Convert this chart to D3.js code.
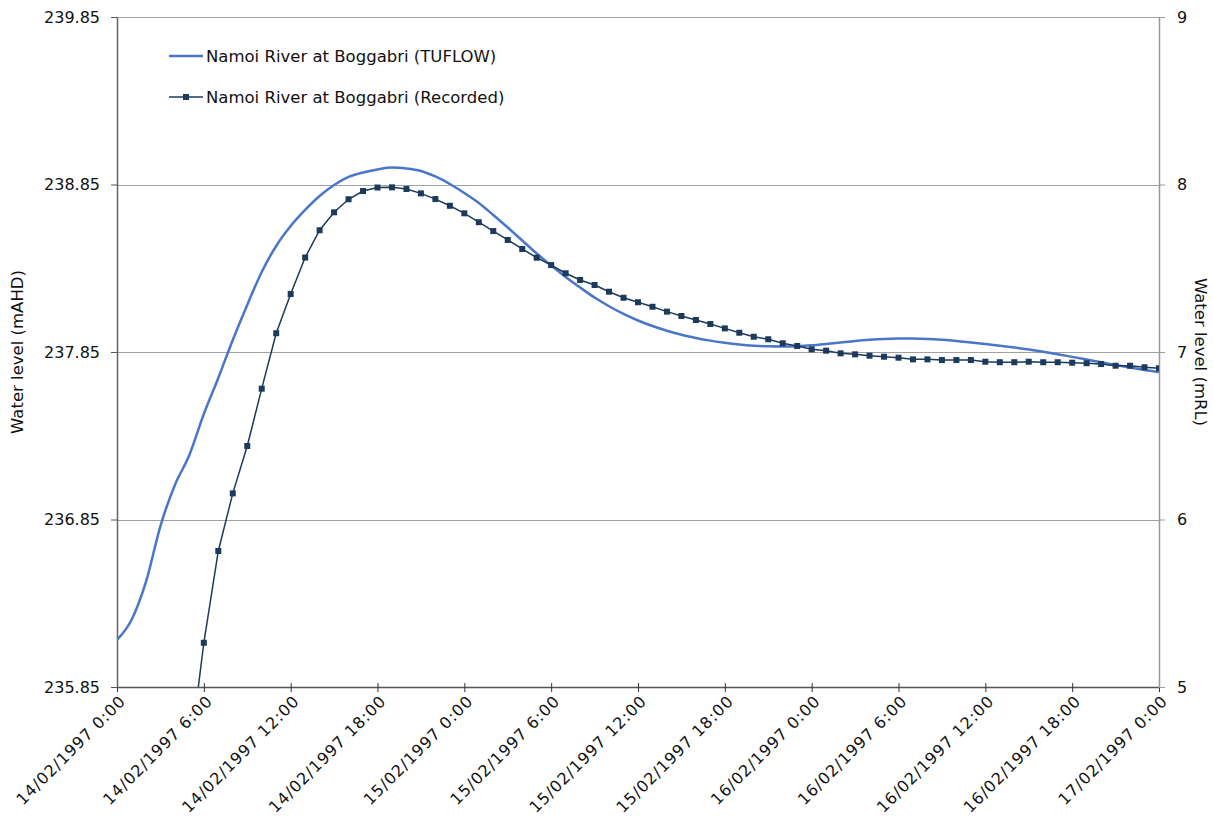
<!DOCTYPE html>
<html lang="en">
<head>
<meta charset="UTF-8">
<title>Namoi River at Boggabri</title>
<script src="https://cdnjs.cloudflare.com/ajax/libs/d3/7.8.5/d3.min.js"></script>
<style>
  body { margin: 0; background: #fff; }
  svg { display: block; }
  text { font-family: "DejaVu Sans", Verdana, sans-serif; fill: #111; }
</style>
</head>
<body>
<div id="chart"></div>
<script>
// hourly series, starting 14/02/1997 0:00
var startTime = new Date(1997, 1, 14, 0, 0);

// TUFLOW modelled level (mAHD), hour 0..72
var tuflow = [
  236.131, 236.250, 236.477, 236.811, 237.056, 237.235, 237.480, 237.695, 237.922, 238.131,
  238.328, 238.483, 238.602, 238.698, 238.781, 238.847, 238.895, 238.922, 238.940, 238.951,
  238.946, 238.931, 238.898, 238.853, 238.799, 238.740, 238.668, 238.593, 238.516, 238.438,
  238.366, 238.298, 238.235, 238.175, 238.123, 238.077, 238.038, 238.005, 237.977, 237.953,
  237.934, 237.918, 237.905, 237.895, 237.888, 237.884, 237.883, 237.885, 237.890, 237.898,
  237.907, 237.916, 237.923, 237.928, 237.930, 237.930, 237.928, 237.923, 237.916, 237.907,
  237.898, 237.888, 237.877, 237.865, 237.852, 237.837, 237.821, 237.805, 237.789, 237.772,
  237.757, 237.743, 237.731
];

// recorded level (mAHD), hour 5..72
var recordedStart = 5;
var recorded = [
  235.420, 236.114, 236.662, 237.006, 237.289, 237.631, 237.962, 238.196, 238.414, 238.577,
  238.684, 238.762, 238.811, 238.832, 238.833, 238.823, 238.797, 238.763, 238.723, 238.678,
  238.625, 238.572, 238.519, 238.465, 238.413, 238.369, 238.320, 238.280, 238.250, 238.210,
  238.174, 238.147, 238.120, 238.091, 238.065, 238.041, 238.017, 237.991, 237.965, 237.941,
  237.926, 237.902, 237.886, 237.866, 237.858, 237.842, 237.836, 237.828, 237.822, 237.816,
  237.806, 237.806, 237.802, 237.802, 237.802, 237.792, 237.789, 237.789, 237.792, 237.789,
  237.789, 237.786, 237.783, 237.778, 237.768, 237.768, 237.759, 237.753
];

var leftTicks = [235.85, 236.85, 237.85, 238.85, 239.85];
var rightTicks = [5, 6, 7, 8, 9];
var seriesNames = ["Namoi River at Boggabri (TUFLOW)", "Namoi River at Boggabri (Recorded)"];

var W = 1213, H = 819;
var m = { left: 117, right: 54, top: 17, bottom: 132 };
var pw = W - m.left - m.right, ph = H - m.top - m.bottom;

function hourDate(h) { return d3.timeHour.offset(startTime, h); }

var x = d3.scaleTime()
  .domain([startTime, hourDate(72)])
  .range([0, pw]);
var y = d3.scaleLinear().domain([235.85, 239.85]).range([ph, 0]);
var y2 = d3.scaleLinear().domain([5, 9]).range([ph, 0]);

var svg = d3.select("#chart").append("svg")
  .attr("width", W).attr("height", H);

svg.append("defs").append("clipPath").attr("id", "plotclip")
  .append("rect").attr("width", pw).attr("height", ph);

var g = svg.append("g").attr("transform", "translate(" + m.left + "," + m.top + ")");

// gridlines
g.append("g").selectAll("line")
  .data(leftTicks.slice(1))
  .enter().append("line")
  .attr("x1", 0).attr("x2", pw)
  .attr("y1", function (d) { return Math.round(y(d)) + 0.5; })
  .attr("y2", function (d) { return Math.round(y(d)) + 0.5; })
  .attr("stroke", "#a0a0a0").attr("stroke-width", 1);

// x axis
var fmt = d3.timeFormat("%d/%m/%Y %-H:%M");
var xAxis = g.append("g")
  .attr("transform", "translate(0," + ph + ")")
  .call(d3.axisBottom(x).ticks(d3.timeHour.every(6)).tickFormat(fmt).tickSizeInner(5).tickSizeOuter(0));
xAxis.select(".domain").attr("stroke", "#555").attr("stroke-width", 1.5);
xAxis.selectAll(".tick line").attr("y1", -4).attr("y2", 5).attr("stroke", "#333");
xAxis.selectAll(".tick text")
  .attr("font-size", 16)
  .attr("letter-spacing", 0.9)
  .attr("fill", "#111")
  .attr("text-anchor", "end")
  .attr("dy", 0)
  .attr("transform", "translate(6,12) rotate(-45)")
  .attr("x", 0).attr("y", 0)
  .attr("dominant-baseline", "middle");

// left axis
var yAxis = g.append("g")
  .call(d3.axisLeft(y).tickValues(leftTicks).tickFormat(d3.format(".2f")).tickSizeInner(6).tickSizeOuter(0));
yAxis.select(".domain").attr("stroke", "#666").attr("stroke-width", 1.5);
yAxis.selectAll(".tick line").attr("stroke", "#555");
yAxis.selectAll(".tick text").attr("font-size", 16).attr("fill", "#111").attr("x", -17);

// right axis
var yAxis2 = g.append("g")
  .attr("transform", "translate(" + pw + ",0)")
  .call(d3.axisRight(y2).tickValues(rightTicks).tickFormat(d3.format("d")).tickSizeInner(6).tickSizeOuter(0));
yAxis2.select(".domain").attr("stroke", "#999").attr("stroke-width", 1.5);
yAxis2.selectAll(".tick line").attr("stroke", "#999");
yAxis2.selectAll(".tick text").attr("font-size", 16).attr("fill", "#111").attr("x", 18);

// axis titles
svg.append("text")
  .attr("transform", "translate(23," + (m.top + ph / 2) + ") rotate(-90)")
  .attr("text-anchor", "middle")
  .attr("font-size", 16.5)
  .text("Water level (mAHD)");
svg.append("text")
  .attr("transform", "translate(1195," + (m.top + ph / 2) + ") rotate(90)")
  .attr("text-anchor", "middle")
  .attr("font-size", 16.5)
  .text("Water level (mRL)");

// series
var tufData = tuflow.map(function (v, i) { return { t: hourDate(i), v: v }; });
var recData = recorded.map(function (v, i) { return { t: hourDate(i + recordedStart), v: v }; });

var plot = g.append("g").attr("clip-path", "url(#plotclip)");

plot.append("path")
  .datum(tufData)
  .attr("fill", "none")
  .attr("stroke", "#4a76c9")
  .attr("stroke-width", 2.5)
  .attr("d", d3.line().curve(d3.curveMonotoneX)
    .x(function (d) { return x(d.t); })
    .y(function (d) { return y(d.v); }));

plot.append("path")
  .datum(recData)
  .attr("fill", "none")
  .attr("stroke", "#1b3a5c")
  .attr("stroke-width", 1.5)
  .attr("d", d3.line()
    .x(function (d) { return x(d.t); })
    .y(function (d) { return y(d.v); }));

plot.selectAll(".mk")
  .data(recData)
  .enter().append("rect")
  .attr("class", "mk")
  .attr("x", function (d) { return x(d.t) - 3; })
  .attr("y", function (d) { return y(d.v) - 3; })
  .attr("width", 6).attr("height", 6)
  .attr("fill", "#1b3a5c");

// legend
var leg = svg.append("g").attr("transform", "translate(169,0)");
leg.append("line").attr("x1", 0).attr("x2", 34).attr("y1", 56).attr("y2", 56)
  .attr("stroke", "#4a76c9").attr("stroke-width", 2.5);
leg.append("text").attr("x", 37).attr("y", 56).attr("dy", "0.35em")
  .attr("font-size", 16.5).text(seriesNames[0]);
leg.append("line").attr("x1", 0).attr("x2", 34).attr("y1", 97).attr("y2", 97)
  .attr("stroke", "#1b3a5c").attr("stroke-width", 1.5);
leg.append("rect").attr("x", 14).attr("y", 94).attr("width", 6).attr("height", 6)
  .attr("fill", "#1b3a5c");
leg.append("text").attr("x", 37).attr("y", 97).attr("dy", "0.35em")
  .attr("font-size", 16.5).text(seriesNames[1]);
</script>
</body>
</html>
